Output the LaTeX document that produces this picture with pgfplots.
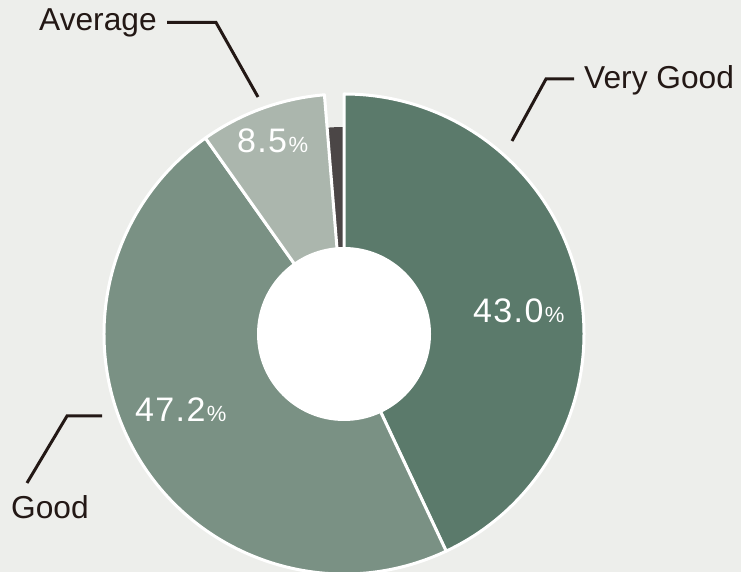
\documentclass[border=0pt]{standalone}
\usepackage{pgfplots}
\pgfplotsset{compat=1.18}
\usepackage{pgfplotstable}
\usepackage{fontspec}
\setmainfont{Liberation Sans}
\definecolor{bg}{HTML}{EDEEEB}
\definecolor{cVG}{HTML}{5B7A6B}
\definecolor{cG}{HTML}{7A9184}
\definecolor{cA}{HTML}{ABB6AD}
\definecolor{cO}{HTML}{4B4646}
\definecolor{ink}{HTML}{231815}

\pgfplotstableread{
label share
VeryGood 43.0
Good 47.2
Average 8.5
Other 1.3
}\piedata

\newcommand{\pct}[1]{{\fontsize{34}{40}\selectfont\addfontfeature{LetterSpace=4}#1}{\kern1.5pt\fontsize{22}{26}\selectfont\%}}

\begin{document}
\begin{tikzpicture}
\pgfplotstablegetelem{0}{share}\of\piedata \pgfmathsetmacro{\sA}{\pgfplotsretval}
\pgfplotstablegetelem{1}{share}\of\piedata \pgfmathsetmacro{\sB}{\pgfplotsretval}
\pgfplotstablegetelem{2}{share}\of\piedata \pgfmathsetmacro{\sC}{\pgfplotsretval}
\pgfplotstablegetelem{3}{share}\of\piedata \pgfmathsetmacro{\sD}{\pgfplotsretval}
\pgfmathsetmacro{\aA}{90}
\pgfmathsetmacro{\aB}{\aA-3.6*\sA}
\pgfmathsetmacro{\aC}{\aB-3.6*\sB}
\pgfmathsetmacro{\aD}{\aC-3.6*\sC}
\pgfmathsetmacro{\aE}{\aD-3.6*\sD}
\begin{axis}[hide axis, x=1pt, y=1pt, xmin=0, xmax=741, ymin=0, ymax=572,
  scale only axis, clip=true]
\coordinate (SW) at (axis cs:0,0);
\coordinate (NE) at (axis cs:741,572);
\fill[bg] (axis cs:0,0) rectangle (axis cs:741,572);
% small slice (drawn shorter)
\fill[cO] (axis cs:344,238) -- ++(\aD:207pt) arc[start angle=\aD, end angle=\aE, radius=207pt] -- cycle;
% main slices
\filldraw[fill=cVG, draw=white, line width=3pt, line join=round] (axis cs:344,238) -- ++(\aA:240pt) arc[start angle=\aA, end angle=\aB, radius=240pt] -- cycle;
\filldraw[fill=cG, draw=white, line width=3pt, line join=round] (axis cs:344,238) -- ++(\aB:240pt) arc[start angle=\aB, end angle=\aC, radius=240pt] -- cycle;
\filldraw[fill=cA, draw=white, line width=3pt, line join=round] (axis cs:344,238) -- ++(\aC:240pt) arc[start angle=\aC, end angle=\aD, radius=240pt] -- cycle;
% hole
\fill[white] (axis cs:344,238) circle[radius=87pt];
% percentages
\node[anchor=base west, inner sep=0, text=white] at (axis cs:473,249) {\pct{43.0}};
\node[anchor=base west, inner sep=0, text=white] at (axis cs:135,150) {\pct{47.2}};
\node[anchor=base west, inner sep=0, text=white] at (axis cs:237,419) {\pct{8.5}};
% labels
\node[anchor=base west, inner sep=0, text=ink, font=\fontsize{31.7}{36}\selectfont] at (axis cs:39,541) {Average};
\node[anchor=base west, inner sep=0, text=ink, font=\fontsize{31.7}{36}\selectfont] at (axis cs:584,483) {Very Good};
\node[anchor=base west, inner sep=0, text=ink, font=\fontsize{31.7}{36}\selectfont] at (axis cs:11,53) {Good};
% leader lines
\draw[ink, line width=3pt] (axis cs:167,549.5) -- (axis cs:216,549.5) -- (axis cs:258,475);
\draw[ink, line width=3pt] (axis cs:574,493) -- (axis cs:546,493) -- (axis cs:512,431);
\draw[ink, line width=3pt] (axis cs:102,156) -- (axis cs:67,156) -- (axis cs:27,89);
\end{axis}
\pgfresetboundingbox
\path[use as bounding box] (SW) rectangle (NE);
\end{tikzpicture}
\end{document}
